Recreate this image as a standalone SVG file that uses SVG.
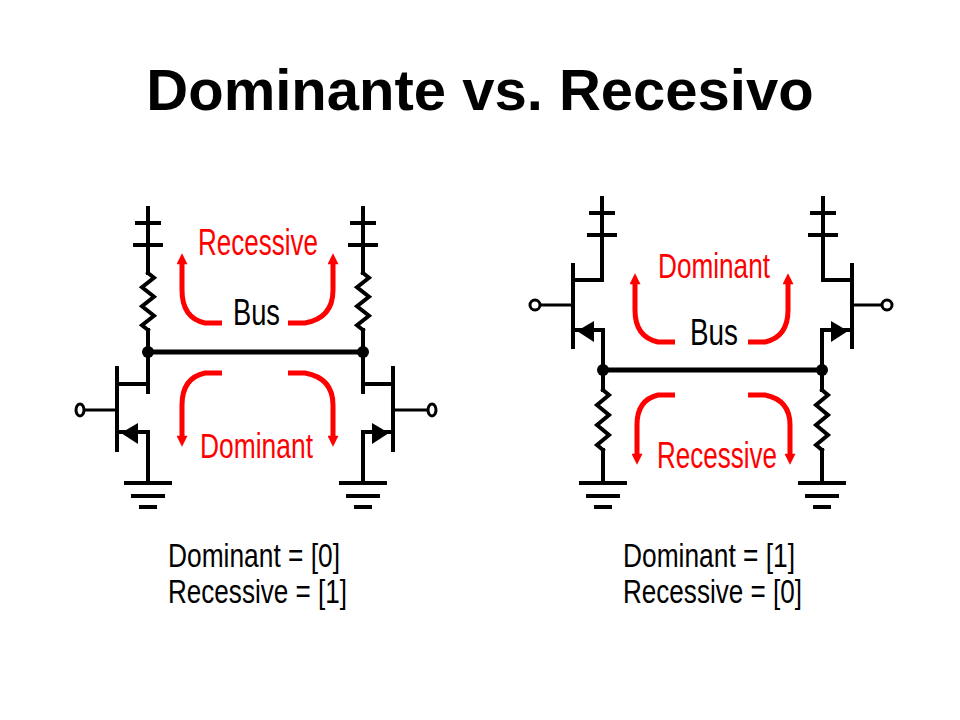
<svg xmlns="http://www.w3.org/2000/svg" xmlns:xlink="http://www.w3.org/1999/xlink" width="960" height="720" viewBox="0 0 960 720">
<style>
.w{stroke:#000;stroke-width:4;fill:none;stroke-linecap:square}
.g{stroke:#000;stroke-width:3;fill:none}
.bus{stroke:#000;stroke-width:5;fill:none}
.r{stroke:#f00;stroke-width:5;fill:none;marker-end:url(#ah)}
.t{font-family:"Liberation Sans",Arial,sans-serif}
.red{fill:#f00}
.blk{fill:#000}
</style>
<defs>
<marker id="ah" viewBox="0 0 10 10" refX="2" refY="5" markerUnits="userSpaceOnUse" markerWidth="12" markerHeight="11" orient="auto">
<path d="M0,0 L10,5 L0,10 z" fill="#f00"/>
</marker>
<g id="vcc"><path class="w" d="M-11,15 H11 M-13,37 H13"/></g>
<g id="gnd"><path class="w" d="M-22,0 H22 M-15,13 H15 M-7,24 H7"/></g>
<path id="res57" class="w" stroke-linejoin="miter" d="M0,0 l6,4.75 l-12,9.5 l12,9.5 l-12,9.5 l12,9.5 l-12,9.5 l6,4.75"/>
<path id="res60" class="w" stroke-linejoin="miter" d="M0,0 l6,5 l-12,10 l12,10 l-12,10 l12,10 l-12,10 l6,5"/>
</defs>
<rect width="960" height="720" fill="#fff"/>
<text id="title" class="t blk" x="480" y="110" font-size="58" font-weight="bold" text-anchor="middle">Dominante vs. Recesivo</text>

<g id="left-circuit">
<g id="L-vcc1"><use xlink:href="#vcc" x="148" y="208"/></g>
<g id="L-vcc2"><use xlink:href="#vcc" x="363" y="208"/></g>
<g id="L-res1"><use xlink:href="#res57" x="148" y="273"/></g>
<g id="L-res2"><use xlink:href="#res57" x="363" y="273"/></g>
<g id="L-q1">
<path class="w" d="M117,368 V450"/>
<path class="w" d="M117,384 H148"/>
<path class="w" d="M120,432 H148"/>
<path class="blk" d="M121,433 L138,423 L138,444 z"/>
<ellipse class="g" cx="80" cy="410" rx="4" ry="6"/>
<path class="g" d="M84,410 H117"/>
</g>
<g id="L-q2">
<path class="w" d="M393,368 V450"/>
<path class="w" d="M363,384 H393"/>
<path class="w" d="M363,432 H390"/>
<path class="blk" d="M389,433 L372,423 L372,444 z"/>
<ellipse class="g" cx="432" cy="410" rx="4" ry="6"/>
<path class="g" d="M393,410 H428"/>
</g>
<g id="L-gnd1"><use xlink:href="#gnd" x="148" y="483"/></g>
<g id="L-gnd2"><use xlink:href="#gnd" x="363" y="483"/></g>
<g id="L-labels">
<text class="t red" x="198" y="255" font-size="37" textLength="120" lengthAdjust="spacingAndGlyphs">Recessive</text>
<text class="t blk" x="233" y="325" font-size="37" textLength="47" lengthAdjust="spacingAndGlyphs">Bus</text>
<text class="t red" x="200" y="458" font-size="35" textLength="113" lengthAdjust="spacingAndGlyphs">Dominant</text>
<text class="t blk" x="168" y="567" font-size="33" textLength="172" lengthAdjust="spacingAndGlyphs">Dominant = [0]</text>
<text class="t blk" x="168" y="603" font-size="33" textLength="179" lengthAdjust="spacingAndGlyphs">Recessive = [1]</text>
</g>
</g>

<g id="right-circuit">
<g id="R-vcc1"><use xlink:href="#vcc" x="602" y="198"/></g>
<g id="R-vcc2"><use xlink:href="#vcc" x="823" y="198"/></g>
<g id="R-q1">
<path class="w" d="M573,265 V347"/>
<path class="w" d="M573,280 H602"/>
<path class="w" d="M576,330 H603"/>
<path class="blk" d="M577,331 L594,321 L594,342 z"/>
<ellipse class="g" cx="535" cy="305" rx="5" ry="5"/>
<path class="g" d="M540,305 H573"/>
</g>
<g id="R-q2">
<path class="w" d="M852,265 V347"/>
<path class="w" d="M823,280 H852"/>
<path class="w" d="M822,330 H849"/>
<path class="blk" d="M848,331 L831,321 L831,342 z"/>
<ellipse class="g" cx="887" cy="305" rx="5" ry="5"/>
<path class="g" d="M852,305 H882"/>
</g>
<g id="R-res1"><use xlink:href="#res60" x="603" y="390"/></g>
<g id="R-res2"><use xlink:href="#res60" x="822" y="390"/></g>
<g id="R-gnd1"><use xlink:href="#gnd" x="603" y="483"/></g>
<g id="R-gnd2"><use xlink:href="#gnd" x="822" y="483"/></g>
<g id="R-labels">
<text class="t red" x="658" y="278" font-size="35" textLength="112" lengthAdjust="spacingAndGlyphs">Dominant</text>
<text class="t blk" x="690" y="345" font-size="37" textLength="48" lengthAdjust="spacingAndGlyphs">Bus</text>
<text class="t red" x="657" y="468" font-size="36" textLength="120" lengthAdjust="spacingAndGlyphs">Recessive</text>
<text class="t blk" x="623" y="567" font-size="33" textLength="172" lengthAdjust="spacingAndGlyphs">Dominant = [1]</text>
<text class="t blk" x="623" y="603" font-size="33" textLength="179" lengthAdjust="spacingAndGlyphs">Recessive = [0]</text>
</g>
</g>

<g id="connectors">
<!-- left circuit wires -->
<path class="w" d="M148,208 V273 M148,330 V392 M148,432 V483"/>
<path class="w" d="M363,208 V273 M363,330 V392 M363,432 V483"/>
<path class="bus" d="M148,352 H363"/>
<circle cx="148" cy="352" r="6" class="blk"/>
<circle cx="363" cy="352" r="6" class="blk"/>
<!-- right circuit wires -->
<path class="w" d="M602,198 V280 M823,198 V280"/>
<path class="w" d="M603,330 V390 M603,450 V483"/>
<path class="w" d="M822,330 V390 M822,450 V483"/>
<path class="bus" d="M603,370 H822" stroke-width="4"/>
<circle cx="603" cy="370" r="6" class="blk"/>
<circle cx="822" cy="370" r="6" class="blk"/>
<!-- red current arrows -->
<path class="r" d="M222,323 L205,323 Q182,318 182,290 L182,262"/>
<path class="r" d="M288,323 L305,323 Q333,318 333,290 L333,262"/>
<path class="r" d="M222,373 L205,373 Q182,378 182,405 L182,438"/>
<path class="r" d="M288,373 L305,373 Q333,378 333,405 L333,438"/>
<path class="r" d="M675,342 L658,342 Q635,337 635,310 L635,282"/>
<path class="r" d="M748,342 L765,342 Q788,337 788,310 L788,282"/>
<path class="r" d="M675,395 L658,395 Q637,400 637,425 L637,456"/>
<path class="r" d="M748,395 L765,395 Q790,400 790,425 L790,456"/>
</g>
</svg>
